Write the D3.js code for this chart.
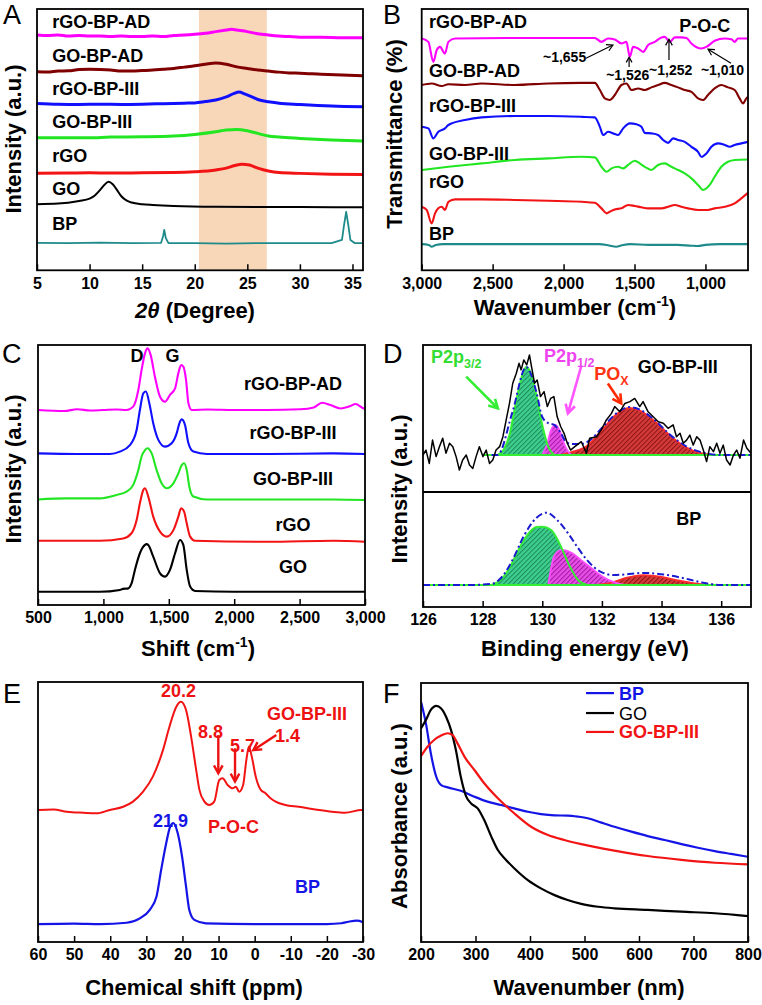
<!DOCTYPE html>
<html><head><meta charset="utf-8">
<script src="https://cdn.jsdelivr.net/npm/d3@7"></script>
<style>body{margin:0;background:#fff;} svg{display:block;}</style>
</head><body><div id="chart"></div>
<script>
// ---------------- DATA ----------------
// Panel A: XRD, [2theta, intensity a.u. (stacked)]
const ticksA = [5,10,15,20,25,30,35];
const bandA = [20.4, 26.85];
const namesA = ["rGO-BP-AD","GO-BP-AD","rGO-BP-III","GO-BP-III","rGO","GO","BP"];
const xrd_rGOBPAD = [[5,90.1],[6,89.9],[7,90.1],[8,89.7],[9,89.9],[10,89.7],[11,89.7],[12,89.5],[13,89.7],[14,89.5],[15,89.5],[16,89.7],[17,89.5],[18,89.9],[19,90.1],[20,90.4],[21,90.8],[22,91.4],[23,92.0],[23.5,92.3],[24,92.0],[25,91.4],[26,90.6],[27,90.1],[28,89.7],[29,89.5],[30,89.3],[32,89.3],[34,89.1],[36,89.1]];
const xrd_GOBPAD = [[5,76.1],[6,76.0],[7,76.4],[8,76.5],[9,77.0],[10,77.1],[11,77.0],[12,76.8],[13,76.4],[14,76.4],[15,76.6],[16,76.8],[17,77.1],[18,77.4],[19,77.9],[20,78.4],[21,79.0],[22,79.5],[23,79.0],[24,78.0],[25,77.4],[26,76.8],[27,76.4],[28,76.0],[29,75.7],[30,75.6],[32,75.2],[34,74.9],[36,74.6]];
const xrd_rGOBPIII = [[5,64.1],[7,63.8],[9,63.7],[11,63.8],[13,63.7],[15,63.8],[17,64.0],[19,64.2],[20,64.3],[21,64.8],[22,65.4],[23,66.6],[23.7,67.8],[24.2,68.4],[24.8,67.6],[25.5,66.5],[26,65.6],[27,64.7],[28,64.2],[30,63.7],[33,63.1],[36,62.8]];
const xrd_GOBPIII = [[5,51.0],[8,51.0],[10,51.0],[12,51.3],[15,51.4],[18,51.7],[20,52.3],[22,53.3],[23,54.0],[24,54.2],[25,53.7],[26,52.7],[27,51.7],[28,51.3],[30,50.8],[33,50.2],[36,49.8]];
const xrd_rGO = [[5,37.5],[8,37.6],[10,37.7],[12,37.6],[15,37.7],[18,37.8],[20,38.1],[22,38.8],[23,39.5],[23.8,40.5],[24.5,41.0],[25.2,40.7],[26,39.5],[27,38.4],[28,37.8],[30,37.5],[33,37.2],[36,37.1]];
const xrd_GO = [[5,25.8],[7,26.0],[9,27.0],[10,27.9],[10.5,29.1],[11,31.2],[11.4,33.1],[11.8,34.3],[12.2,33.4],[12.6,31.2],[13,28.9],[13.5,27.2],[14,26.4],[15,25.8],[16,25.5],[18,25.1],[22,24.8],[30,24.7],[36,24.6]];
const xrd_BP = [[5,11.1],[8,11.0],[11,11.2],[14,11.0],[16.8,11.1],[17.0,13.7],[17.1,16.0],[17.25,12.9],[17.5,11.0],[20,11.0],[23,10.8],[26,11.0],[30,11.0],[33,11.0],[34.0,12.2],[34.2,17.9],[34.4,22.9],[34.6,17.9],[34.8,12.2],[35.2,11.0],[36,11.0]];

// Panel B: FTIR, [wavenumber, transmittance a.u. (stacked)]
const ticksB = [3000,2500,2000,1500,1000];
const namesB = ["rGO-BP-AD","GO-BP-AD","rGO-BP-III","GO-BP-III","rGO","BP"];
const peakLabelsB = ["~1,655","~1,526","~1,252","~1,010"];
const ir_rGOBPAD = [[3000,88.8],[2953,87.5],[2918,79.9],[2894,84.4],[2871,85.6],[2836,83.1],[2812,87.5],[2765,88.8],[2400,89.0],[2000,89.0],[1780,89.0],[1733,87.5],[1686,88.8],[1639,88.4],[1592,86.9],[1557,87.5],[1533,81.8],[1510,85.6],[1474,85.0],[1439,83.7],[1404,86.3],[1357,87.5],[1310,89.2],[1287,89.4],[1251,87.5],[1216,89.2],[1169,89.2],[1134,89.0],[1099,86.9],[1029,85.0],[993,85.6],[935,87.9],[864,88.8],[817,88.5],[794,87.5],[770,88.8],[700,88.8]];
const ir_GOBPAD = [[3000,71.1],[2930,71.7],[2859,70.7],[2812,71.4],[2695,71.1],[2578,71.7],[2343,71.1],[2108,71.7],[1873,71.9],[1780,71.9],[1744,69.2],[1709,66.0],[1674,65.4],[1639,67.3],[1592,71.1],[1557,71.7],[1521,69.2],[1474,69.8],[1428,69.2],[1381,70.2],[1334,71.1],[1287,71.9],[1240,71.1],[1193,70.2],[1146,69.2],[1099,68.5],[1052,66.0],[1017,65.4],[982,67.3],[935,69.8],[888,71.1],[841,70.2],[794,69.2],[759,66.0],[735,64.1],[712,66.0],[700,66.6]];
const ir_rGOBPIII = [[3000,55.2],[2953,54.6],[2918,50.8],[2883,53.3],[2836,54.6],[2812,55.9],[2695,57.8],[2578,58.8],[2343,59.3],[2108,59.3],[1873,59.0],[1780,58.8],[1744,55.2],[1721,52.1],[1686,53.3],[1650,52.7],[1615,52.1],[1580,54.6],[1533,56.5],[1486,56.2],[1451,55.2],[1428,52.9],[1381,52.7],[1334,52.1],[1298,50.2],[1263,49.1],[1228,50.8],[1193,50.2],[1146,49.5],[1099,47.6],[1052,45.7],[1029,43.8],[993,45.1],[958,47.6],[911,48.9],[864,48.3],[829,47.6],[794,48.3],[747,48.9],[700,49.5]];
const ir_GOBPIII = [[3000,38.8],[2812,40.0],[2578,41.3],[2343,42.6],[2108,43.2],[1873,43.8],[1780,43.6],[1733,40.0],[1697,38.1],[1662,39.4],[1615,40.0],[1580,39.4],[1545,40.7],[1498,42.3],[1463,41.3],[1428,40.0],[1381,38.8],[1334,40.7],[1287,41.3],[1240,40.0],[1193,38.8],[1146,37.5],[1099,35.6],[1052,33.1],[1017,31.2],[970,33.1],[935,36.2],[888,40.0],[841,41.9],[794,42.6],[700,42.8]];
const ir_rGO = [[3000,24.8],[2965,23.6],[2930,18.5],[2906,22.3],[2883,24.2],[2859,24.8],[2836,23.6],[2812,26.7],[2765,27.6],[2578,27.6],[2343,27.4],[2108,27.1],[1873,26.7],[1780,26.3],[1733,24.2],[1697,22.3],[1674,22.9],[1639,23.8],[1592,24.2],[1545,25.5],[1498,25.1],[1451,24.6],[1404,24.2],[1310,24.2],[1263,24.8],[1216,25.5],[1169,24.8],[1122,24.2],[1052,23.6],[982,23.6],[935,24.2],[864,24.8],[794,26.1],[747,28.0],[700,30.1]];
const ir_BP = [[3000,10.6],[2950,10.3],[2930,9.6],[2900,10.3],[2850,10.6],[2700,10.6],[2400,10.6],[2000,10.6],[1750,10.6],[1680,10.1],[1630,9.6],[1580,10.3],[1530,10.6],[1400,10.3],[1200,10.3],[1100,10.0],[1055,9.9],[1000,10.3],[900,10.6],[700,10.6]];

// Panel C: Raman, [shift, intensity a.u. (stacked)]
const ticksC = [500,1000,1500,2000,2500,3000];
const namesC = ["rGO-BP-AD","rGO-BP-III","GO-BP-III","rGO","GO"];
const ra_rGOBPAD = [[500,75.0],[700,74.6],[800,75.3],[900,74.8],[1000,75.0],[1100,75.2],[1177,75.0],[1228,76.3],[1267,82.7],[1292,90.4],[1318,96.8],[1338,98.7],[1361,96.2],[1394,87.8],[1433,80.1],[1471,78.2],[1509,80.8],[1548,83.3],[1573,89.1],[1594,92.3],[1611,91.7],[1632,86.5],[1650,77.6],[1675,75.0],[1800,75.2],[1995,75.0],[2250,75.0],[2506,75.3],[2608,76.0],[2672,77.8],[2736,76.9],[2812,75.6],[2889,76.5],[2927,77.3],[2991,75.6],[3000,75.5]];
const ra_rGOBPIII = [[500,58.3],[800,58.1],[1049,58.1],[1126,59.0],[1203,61.5],[1254,67.3],[1279,75.0],[1305,81.4],[1325,82.1],[1351,77.6],[1381,69.9],[1420,63.5],[1471,60.9],[1522,62.2],[1560,66.0],[1581,69.9],[1599,71.4],[1624,69.2],[1650,62.2],[1688,59.0],[1790,58.1],[2250,58.1],[2761,58.3],[3000,58.1]];
const ra_GOBPIII = [[500,40.6],[717,41.0],[973,41.0],[1100,42.3],[1177,43.6],[1228,46.2],[1267,51.9],[1292,57.1],[1318,59.6],[1338,60.3],[1369,58.3],[1407,51.9],[1445,46.8],[1484,44.9],[1535,46.8],[1573,50.6],[1599,53.8],[1617,54.5],[1637,51.9],[1657,45.5],[1688,41.7],[1790,40.6],[2250,40.6],[2761,40.6],[3000,40.4]];
const ra_rGO = [[500,24.7],[973,24.7],[1152,25.6],[1215,27.6],[1254,32.7],[1279,39.1],[1305,44.2],[1318,44.9],[1343,41.7],[1381,34.0],[1433,28.2],[1484,26.3],[1535,28.8],[1573,34.0],[1594,37.2],[1617,35.9],[1637,31.4],[1663,26.3],[1701,24.7],[2250,24.3],[2761,24.7],[3000,24.3]];
const ra_GO = [[500,5.1],[973,5.1],[1126,5.8],[1150,6.2],[1190,6.4],[1215,8.3],[1241,13.5],[1279,19.9],[1318,23.1],[1330,23.4],[1343,23.1],[1381,18.6],[1433,12.2],[1471,10.9],[1509,13.5],[1548,19.9],[1586,25.0],[1611,23.1],[1637,13.5],[1663,7.1],[1701,5.4],[1995,5.1],[2506,5.1],[3000,5.1]];

// Panel D: XPS P2p, [binding energy, intensity a.u.]
const ticksD = [126,128,130,132,134,136];
const baseD_top = 58.0, baseD_bot = 8.4;
const xps_raw = [[126.0,58.0],[126.10,59.9],[126.21,54.8],[126.32,63.7],[126.44,57.4],[126.55,61.2],[126.66,64.4],[126.77,58.7],[126.89,62.5],[127.00,61.2],[127.11,57.4],[127.22,52.3],[127.33,56.1],[127.45,58.0],[127.56,54.2],[127.67,52.9],[127.78,57.4],[127.89,61.2],[128.01,57.4],[128.12,59.9],[128.23,54.8],[128.34,56.1],[128.45,59.9],[128.57,61.2],[128.68,65.0],[128.79,71.4],[128.90,77.7],[129.01,85.4],[129.13,89.2],[129.22,93.0],[129.29,90.5],[129.38,94.3],[129.48,92.4],[129.57,96.2],[129.65,91.1],[129.74,85.4],[129.83,86.6],[129.94,80.3],[130.06,82.2],[130.17,76.5],[130.28,79.6],[130.39,80.3],[130.50,72.6],[130.62,68.8],[130.73,66.3],[130.84,62.5],[130.95,59.9],[131.09,61.2],[131.31,63.1],[131.48,58.7],[131.59,64.4],[131.82,65.0],[131.98,67.6],[132.15,71.4],[132.32,73.9],[132.43,76.5],[132.60,74.5],[132.77,77.7],[132.94,78.4],[133.10,79.6],[133.27,76.5],[133.38,78.4],[133.55,74.5],[133.72,72.6],[133.89,70.7],[134.06,70.1],[134.22,68.2],[134.39,69.5],[134.50,65.0],[134.62,66.3],[134.73,62.5],[134.84,63.7],[134.95,65.6],[135.06,61.8],[135.18,65.0],[135.29,63.7],[135.40,59.9],[135.51,55.5],[135.62,61.2],[135.74,59.3],[135.85,62.5],[135.96,58.7],[136.07,61.8],[136.18,56.1],[136.30,54.2],[136.41,58.0],[136.52,59.9],[136.63,56.8],[136.75,63.7],[136.86,60.6],[137.0,58.7]];
const xps_top_p32 = [[128.5,58.0],[128.7,59.9],[128.9,65.6],[129.1,77.1],[129.3,87.4],[129.46,91.6],[129.6,89.7],[129.8,80.9],[130.0,69.5],[130.2,61.1],[130.4,58.0]];
const xps_top_p12 = [[130.0,58.0],[130.15,61.8],[130.3,67.6],[130.45,69.5],[130.6,66.8],[130.75,61.8],[130.9,58.8],[131.0,58.0]];
const xps_top_pox = [[130.6,58.0],[131.0,59.2],[131.5,61.5],[132.0,67.6],[132.5,73.7],[132.9,76.0],[133.3,74.8],[133.8,70.6],[134.3,65.3],[134.8,61.1],[135.3,58.8],[135.8,58.0]];
const xps_top_env = [[128.3,58.0],[128.5,58.0],[129.0,74.4],[129.46,91.6],[129.8,82.1],[130.0,72.5],[130.2,70.2],[130.4,69.5],[130.6,66.8],[130.8,63.0],[131.0,62.2],[131.3,62.2],[131.6,63.7],[132.0,68.3],[132.5,74.0],[132.9,76.3],[133.3,75.2],[133.8,71.0],[134.3,65.6],[134.8,61.5],[135.3,59.2],[136.0,58.0],[137.0,58.0]];
const xps_bot_p32 = [[128.3,8.4],[128.6,10.3],[128.9,14.9],[129.2,21.8],[129.5,27.5],[129.8,30.5],[130.0,30.6],[130.3,29.4],[130.6,23.7],[130.9,16.0],[131.2,10.3],[131.5,8.4]];
const xps_bot_p12 = [[130.2,8.4],[130.4,19.5],[130.65,21.8],[131.0,20.6],[131.3,17.9],[131.6,15.3],[131.85,13.0],[132.1,11.1],[132.4,9.5],[132.8,8.4]];
const xps_bot_pox = [[131.8,8.4],[132.3,9.2],[132.8,11.1],[133.4,12.2],[134.0,11.5],[134.5,10.3],[135.0,9.2],[135.6,8.4]];
const xps_bot_env = [[126,8.4],[127.5,8.4],[128.3,8.8],[128.7,12.2],[129.0,17.9],[129.4,27.5],[129.8,34.0],[130.15,36.0],[130.5,33.2],[130.86,28.2],[131.2,22.5],[131.5,17.9],[131.95,13.5],[132.4,12.2],[133.4,13.0],[134.2,12.2],[134.7,11.1],[135.3,9.5],[136,8.4],[137,8.4]];

// Panel E: 31P NMR, [chemical shift ppm, intensity a.u.]
const ticksE = [60,50,40,30,20,10,0,-10,-20,-30];
const peaksE = ["20.2","8.8","5.7","1.4","21.9"];
const nmr_GOBPIII = [[60,50.7],[59.8,50.8],[55.7,51.0],[52.0,50.1],[47.4,49.7],[43.8,49.5],[40.1,50.8],[36.4,52.0],[33.7,54.0],[30.9,57.8],[28.2,63.6],[25.4,73.8],[23.6,82.8],[21.7,90.5],[20.4,92.4],[19.0,89.2],[17.6,79.0],[16.2,66.2],[15.3,58.5],[13.9,54.0],[12.6,52.7],[11.2,54.0],[9.8,62.3],[8.9,63.0],[7.5,60.4],[6.1,59.1],[5.2,59.7],[4.3,57.8],[3.2,60.4],[2.3,70.0],[1.6,75.1],[0.8,71.3],[-0.3,63.6],[-1.7,58.5],[-3.0,57.2],[-4.4,55.3],[-5.8,54.0],[-8.5,52.7],[-12.2,52.0],[-16.8,51.0],[-21.4,50.1],[-25.0,49.7],[-29.6,50.8],[-30,50.6]];
const nmr_BP = [[60,6.9],[50,7.1],[42.8,6.9],[35.5,7.4],[31.8,9.1],[29.1,12.3],[27.2,17.4],[25.9,27.7],[24.5,38.0],[23.4,44.3],[22.5,45.7],[21.3,41.8],[20.1,32.8],[19.0,21.3],[18.1,12.3],[16.7,8.5],[13.5,7.2],[0,6.9],[-20,6.9],[-24,7.2],[-26.0,7.8],[-28.3,8.2],[-30,7.6]];

// Panel F: UV-vis, [wavelength nm, absorbance a.u.]
const ticksF = [200,300,400,500,600,700,800];
const namesF = ["BP","GO","GO-BP-III"];
const uv_BP = [[200,92.8],[209,84.4],[218,72.9],[228,63.8],[237,60.6],[249,59.7],[273,58.4],[298,56.1],[322,54.2],[347,52.9],[371,51.6],[396,50.3],[420,49.4],[445,48.9],[469,48.8],[488,48.4],[506,47.8],[531,46.1],[555,44.5],[586,42.6],[616,40.9],[647,39.4],[678,37.8],[708,36.4],[739,35.1],[769,34.0],[800,32.9]];
const uv_GO = [[200,82.5],[209,85.7],[218,89.6],[228,91.2],[237,90.2],[246,87.0],[255,81.9],[264,74.1],[273,63.8],[283,56.1],[292,53.5],[304,51.6],[316,47.1],[329,40.7],[341,35.5],[356,31.7],[371,28.5],[396,23.9],[420,20.7],[445,18.1],[469,16.2],[494,14.7],[525,13.6],[555,13.0],[616,12.4],[678,11.7],[739,11.1],[800,10.0]];
const uv_GOBPIII = [[200,71.8],[212,75.4],[224,78.0],[237,79.7],[249,80.6],[258,79.9],[267,76.7],[280,71.5],[298,66.4],[316,61.3],[341,55.5],[371,49.7],[402,44.5],[433,41.3],[463,39.4],[494,37.8],[555,35.3],[616,33.2],[678,31.7],[739,30.6],[800,30.0]];

// ---------------- DRAWING ----------------
const FONT = '"Liberation Sans", Arial, Helvetica, sans-serif';
const C = {mag:"#ff00ff", dred:"#800000", blue:"#1010ff", green:"#22e622", red:"#f21414", teal:"#1f8a8a", black:"#000"};
const svg = d3.select("#chart").append("svg").attr("width",762).attr("height",1005)
  .attr("font-family",FONT).style("background","#fff");
const defs = svg.append("defs");
function hatch(id,bg,fg){
  const p = defs.append("pattern").attr("id",id).attr("patternUnits","userSpaceOnUse")
    .attr("width",3.4).attr("height",3.4).attr("patternTransform","rotate(45)");
  p.append("rect").attr("width",3.4).attr("height",3.4).attr("fill",bg);
  p.append("line").attr("x1",0.5).attr("y1",0).attr("x2",0.5).attr("y2",3.4).attr("stroke",fg).attr("stroke-width",1.1);
}
hatch("hG","#3fcf8e","#1b8a5a");
hatch("hM","#e64fe6","#a418a4");
hatch("hR","#d63b3b","#8c1414");

let clipN = 0;
function makePanel(p){
  const g = svg.append("g");
  const x = d3.scaleLinear().domain(p.xDomain).range([p.l,p.r]);
  const y = d3.scaleLinear().domain([0,100]).range(p.yRange);
  const id = "clip"+(clipN++);
  defs.append("clipPath").attr("id",id).append("rect")
    .attr("x",p.l).attr("y",p.t).attr("width",p.r-p.l).attr("height",p.b-p.t);
  const plot = g.append("g").attr("clip-path",`url(#${id})`);
  const ax = g.append("g").attr("transform",`translate(0,${p.b})`)
    .call(d3.axisBottom(x).tickValues(p.ticks).tickSizeInner(-6).tickSizeOuter(0).tickPadding(7).tickFormat(p.fmt));
  ax.select(".domain").remove();
  ax.attr("font-family",FONT).attr("font-size",16).attr("font-weight","bold");
  ax.selectAll(".tick line").attr("stroke","#000").attr("stroke-width",1.5);
  ax.selectAll(".tick text").attr("fill","#000");
  const over = g.append("g");
  over.append("rect").attr("x",p.l).attr("y",p.t).attr("width",p.r-p.l).attr("height",p.b-p.t)
    .attr("fill","none").attr("stroke","#000").attr("stroke-width",1.8);
  over.append("text").attr("x",p.letter[1]).attr("y",p.letter[2]).attr("font-size",27).attr("fill","#000").text(p.letter[0]);
  if (p.ytitle) over.append("text").attr("transform",`translate(${p.ytitle[1]},${p.ytitle[2]}) rotate(-90)`)
    .attr("text-anchor","middle").attr("font-size",22).attr("font-weight","bold").text(p.ytitle[0]);
  return {g:over, plot, x, y, p};
}
function xTitle(P, cx, by, parts){
  const t = P.g.append("text").attr("x",cx).attr("y",by).attr("text-anchor","middle").attr("font-size",22).attr("font-weight","bold");
  parts.forEach(pt=>{
    const s = t.append("tspan").text(pt.t);
    if (pt.italic) s.attr("font-style","italic");
    if (pt.sup) s.attr("font-size",14).attr("dy",-9);
    if (pt.down) s.attr("dy",9);
  });
}
function line(P, data, color, w, curve){
  P.plot.append("path").datum(data)
    .attr("d", d3.line().x(d=>P.x(d[0])).y(d=>P.y(d[1])).curve(curve||d3.curveMonotoneX))
    .attr("fill","none").attr("stroke",color).attr("stroke-width",w).attr("stroke-linejoin","round");
}
function label(P, xv, yv, str, o={}){
  return P.g.append("text").attr("x",P.x(xv)).attr("y",P.y(yv)).attr("font-size",o.size||18)
    .attr("font-weight",o.weight||"bold").attr("fill",o.color||"#000").attr("text-anchor",o.anchor||"start").text(str);
}
function arrow(P, x1,y1,x2,y2,color,w,head){
  const X1=P.x(x1),Y1=P.y(y1),X2=P.x(x2),Y2=P.y(y2);
  const a = Math.atan2(Y2-Y1,X2-X1);
  P.g.append("line").attr("x1",X1).attr("y1",Y1).attr("x2",X2-Math.cos(a)*w*0.5).attr("y2",Y2-Math.sin(a)*w*0.5)
    .attr("stroke",color).attr("stroke-width",w);
  const p1=[X2-head*Math.cos(a-0.5),Y2-head*Math.sin(a-0.5)], p2=[X2-head*Math.cos(a+0.5),Y2-head*Math.sin(a+0.5)];
  P.g.append("path").attr("d",`M${p1[0]},${p1[1]}L${X2},${Y2}L${p2[0]},${p2[1]}`)
    .attr("fill","none").attr("stroke",color).attr("stroke-width",w).attr("stroke-linejoin","miter");
}
const fmtInt = d=>String(d);
const fmtComma = d3.format(",");

// ---- Panel A ----
const A = makePanel({xDomain:[5,36], l:37, r:363, t:9, b:270.3, yRange:[272,9], ticks:ticksA, fmt:fmtInt,
  letter:["A",3,24], ytitle:["Intensity (a.u.)",20.7,139]});
A.plot.append("rect").attr("x",A.x(bandA[0])).attr("y",9).attr("width",A.x(bandA[1])-A.x(bandA[0])).attr("height",262).attr("fill","#f8d6b8");
const seriesA = [xrd_rGOBPAD, xrd_GOBPAD, xrd_rGOBPIII, xrd_GOBPIII, xrd_rGO, xrd_GO, xrd_BP];
const colA = [C.mag, C.dred, C.blue, C.green, C.red, C.black, C.teal];
seriesA.forEach((s,i)=> line(A, s, colA[i], i===5?2:(i===6?1.8:3), i===6?d3.curveLinear:d3.curveMonotoneX));
const labYA = [92.7,79.8,67.3,54.7,41.8,29.3,16.0];
namesA.forEach((n,i)=> label(A, 6.45, labYA[i], n));
xTitle(A, 195, 318, [{t:"2θ",italic:true},{t:" (Degree)"}]);

// ---- Panel B ----
const B = makePanel({xDomain:[3000,700], l:421.7, r:748, t:9, b:270.3, yRange:[272,9], ticks:ticksB, fmt:fmtComma,
  letter:["B",383,24], ytitle:["Transmittance (%)",402,134]});
const seriesB = [ir_rGOBPAD, ir_GOBPAD, ir_rGOBPIII, ir_GOBPIII, ir_rGO, ir_BP];
const colB = [C.mag, C.dred, C.blue, C.green, C.red, C.teal];
seriesB.forEach((s,i)=> line(B, s, colB[i], 2.1));
const labYB = [92.7,74.1,60.8,42.6,31.9,12.2];
namesB.forEach((n,i)=> label(B, 2949, labYB[i], n));
label(B, 1185, 91.2, "P-O-C");
label(B, 2145, 79.8, peakLabelsB[0], {size:14});
label(B, 1700, 73.0, peakLabelsB[1], {size:14});
label(B, 1397, 74.9, peakLabelsB[2], {size:14});
label(B, 1032, 74.9, peakLabelsB[3], {size:14});
arrow(B, 1842,81.3, 1652,86.3, "#000", 1.2, 7);
arrow(B, 1538,77.9, 1538,81.7, "#000", 1.2, 6);
arrow(B, 1257,80.6, 1257,88.5, "#000", 1.2, 7);
arrow(B, 820,79.4, 982,84.7, "#000", 1.2, 7);
xTitle(B, 575, 315, [{t:"Wavenumber (cm"},{t:"-1",sup:true},{t:")",down:true}]);

// ---- Panel C ----
const Cp = makePanel({xDomain:[500,3000], l:38, r:365, t:345, b:605, yRange:[605,345], ticks:ticksC, fmt:fmtComma,
  letter:["C",2,363], ytitle:["Intensity (a.u.)",20.5,469]});
const seriesC = [ra_rGOBPAD, ra_rGOBPIII, ra_GOBPIII, ra_rGO, ra_GO];
const colC = [C.mag, C.blue, C.green, C.red, C.black];
seriesC.forEach((s,i)=> line(Cp, s, colC[i], 2.1));
const labYC = [82.7,63.8,46.2,28.5,12.3];
namesC.forEach((n,i)=> label(Cp, 2450, labYC[i], n, {anchor:"middle"}));
label(Cp, 1257, 93.5, "D", {anchor:"middle"});
label(Cp, 1528, 93.5, "G", {anchor:"middle"});
xTitle(Cp, 198, 656, [{t:"Shift (cm"},{t:"-1",sup:true},{t:")",down:true}]);

// ---- Panel D ----
const D = makePanel({xDomain:[126,137], l:423, r:751, t:345, b:607, yRange:[607,345], ticks:ticksD, fmt:fmtInt,
  letter:["D",383,363], ytitle:["Intensity (a.u.)",406.5,489]});
D.g.append("line").attr("x1",423).attr("x2",751).attr("y1",D.y(43.9)).attr("y2",D.y(43.9)).attr("stroke","#000").attr("stroke-width",1.8);
function fillComp(P, data, base, pat){
  P.plot.append("path").datum(data)
    .attr("d", d3.area().x(d=>P.x(d[0])).y0(P.y(base)).y1(d=>P.y(d[1])).curve(d3.curveMonotoneX))
    .attr("fill",`url(#${pat})`).attr("stroke","none");
}
[[xps_top_pox,"hR"],[xps_top_p32,"hG"],[xps_top_p12,"hM"]].forEach(c=>fillComp(D,c[0],baseD_top,c[1]));
[[xps_bot_pox,"hR"],[xps_bot_p32,"hG"],[xps_bot_p12,"hM"]].forEach(c=>fillComp(D,c[0],baseD_bot,c[1]));
line(D, xps_top_pox, "#ff2a2a", 1.8); line(D, xps_top_p12, "#ff4cff", 1.8); line(D, xps_top_p32, "#33ee33", 2);
line(D, xps_bot_pox, "#ff2a2a", 1.8); line(D, xps_bot_p12, "#ff4cff", 1.8); line(D, xps_bot_p32, "#33ee33", 2);
D.plot.append("line").attr("x1",D.x(128.0)).attr("x2",D.x(137)).attr("y1",D.y(baseD_top)).attr("y2",D.y(baseD_top)).attr("stroke","#33ee33").attr("stroke-width",2);
D.plot.append("line").attr("x1",D.x(126)).attr("x2",D.x(137)).attr("y1",D.y(baseD_bot)).attr("y2",D.y(baseD_bot)).attr("stroke","#33ee33").attr("stroke-width",2);
D.plot.append("path").datum(xps_top_env).attr("d", d3.line().x(d=>D.x(d[0])).y(d=>D.y(d[1])).curve(d3.curveMonotoneX))
  .attr("fill","none").attr("stroke","#1a1ad0").attr("stroke-width",2).attr("stroke-dasharray","7,3,2,3");
D.plot.append("path").datum(xps_bot_env).attr("d", d3.line().x(d=>D.x(d[0])).y(d=>D.y(d[1])).curve(d3.curveMonotoneX))
  .attr("fill","none").attr("stroke","#1a1ad0").attr("stroke-width",2).attr("stroke-dasharray","7,3,2,3");
line(D, xps_raw, "#000", 1.5, d3.curveLinear);
function subLabel(P, xv, yv, main, sub, color){
  const t = P.g.append("text").attr("x",P.x(xv)).attr("y",P.y(yv)).attr("font-size",18).attr("font-weight","bold").attr("fill",color);
  t.append("tspan").text(main);
  t.append("tspan").attr("font-size",12.5).attr("dy",5).text(sub);
}
subLabel(D, 126.27, 93.1, "P2p", "3/2", "#33dd33");
subLabel(D, 130.06, 93.5, "P2p", "1/2", "#ee44ee");
subLabel(D, 131.74, 86.6, "PO", "X", "#ff3311");
label(D, 133.2, 89.3, "GO-BP-III");
label(D, 134.49, 31.3, "BP");
arrow(D, 127.45,87.9, 128.51,75.8, "#33ee33", 2.6, 10);
arrow(D, 131.30,91.7, 130.86,73.9, "#ff55ff", 2.6, 10);
arrow(D, 132.2,85.3, 132.65,77.7, "#ff2a00", 2.6, 10);
xTitle(D, 585, 656, [{t:"Binding energy  (eV)"}]);

// ---- Panel E ----
const E = makePanel({xDomain:[60,-30], l:38, r:363, t:682, b:942, yRange:[942,682], ticks:ticksE, fmt:fmtInt,
  letter:["E",3,703]});
line(E, nmr_GOBPIII, C.red, 2);
line(E, nmr_BP, "#1414e6", 2.2);
label(E, 21.1, 94.3, peaksE[0], {color:"#ee1111", anchor:"middle"});
label(E, -3.4, 85.4, "GO-BP-III", {color:"#ee1111"});
label(E, 15.7, 78.5, peaksE[1], {color:"#ee1111"});
label(E, 6.8, 73.1, peaksE[2], {color:"#ee1111"});
label(E, -5.6, 76.9, peaksE[3], {color:"#ee1111"});
label(E, 12.9, 41.9, "P-O-C", {color:"#ee1111"});
label(E, 23.3, 44.3, peaksE[4], {color:"#1414e6", anchor:"middle"});
label(E, -11.2, 18.8, "BP", {color:"#1414e6"});
arrow(E, 10.07,79.6, 10.07,64.9, "#ee1111", 2.4, 9);
arrow(E, 5.44,74.5, 5.44,61.7, "#ee1111", 2.4, 9);
arrow(E, -6.0,79.6, 0.38,73.8, "#ee1111", 2.4, 9);
xTitle(E, 194, 995, [{t:"Chemical shift (ppm)"}]);

// ---- Panel F ----
const F = makePanel({xDomain:[200,800], l:421, r:748, t:683, b:942, yRange:[942,683], ticks:ticksF, fmt:fmtInt,
  letter:["F",383,703], ytitle:["Absorbance (a.u.)",407,816]});
const seriesF = [uv_BP, uv_GO, uv_GOBPIII];
const colF = ["#1414e6", "#000", C.red];
seriesF.forEach((s,i)=> line(F, s, colF[i], 2.2));
const legY = [96.1, 88.4, 81.1];
namesF.forEach((n,i)=>{
  F.g.append("line").attr("x1",F.x(502.8)).attr("x2",F.x(554.1)).attr("y1",F.y(legY[i])).attr("y2",F.y(legY[i]))
    .attr("stroke",colF[i]).attr("stroke-width",2.2);
  F.g.append("text").attr("x",F.x(563.3)).attr("y",F.y(legY[i])).attr("dy","0.36em").attr("font-size",18)
    .attr("font-weight",i===1?"normal":"bold").attr("fill",colF[i]).text(n);
});
xTitle(F, 589, 995, [{t:"Wavenumber (nm)"}]);
</script></body></html>
